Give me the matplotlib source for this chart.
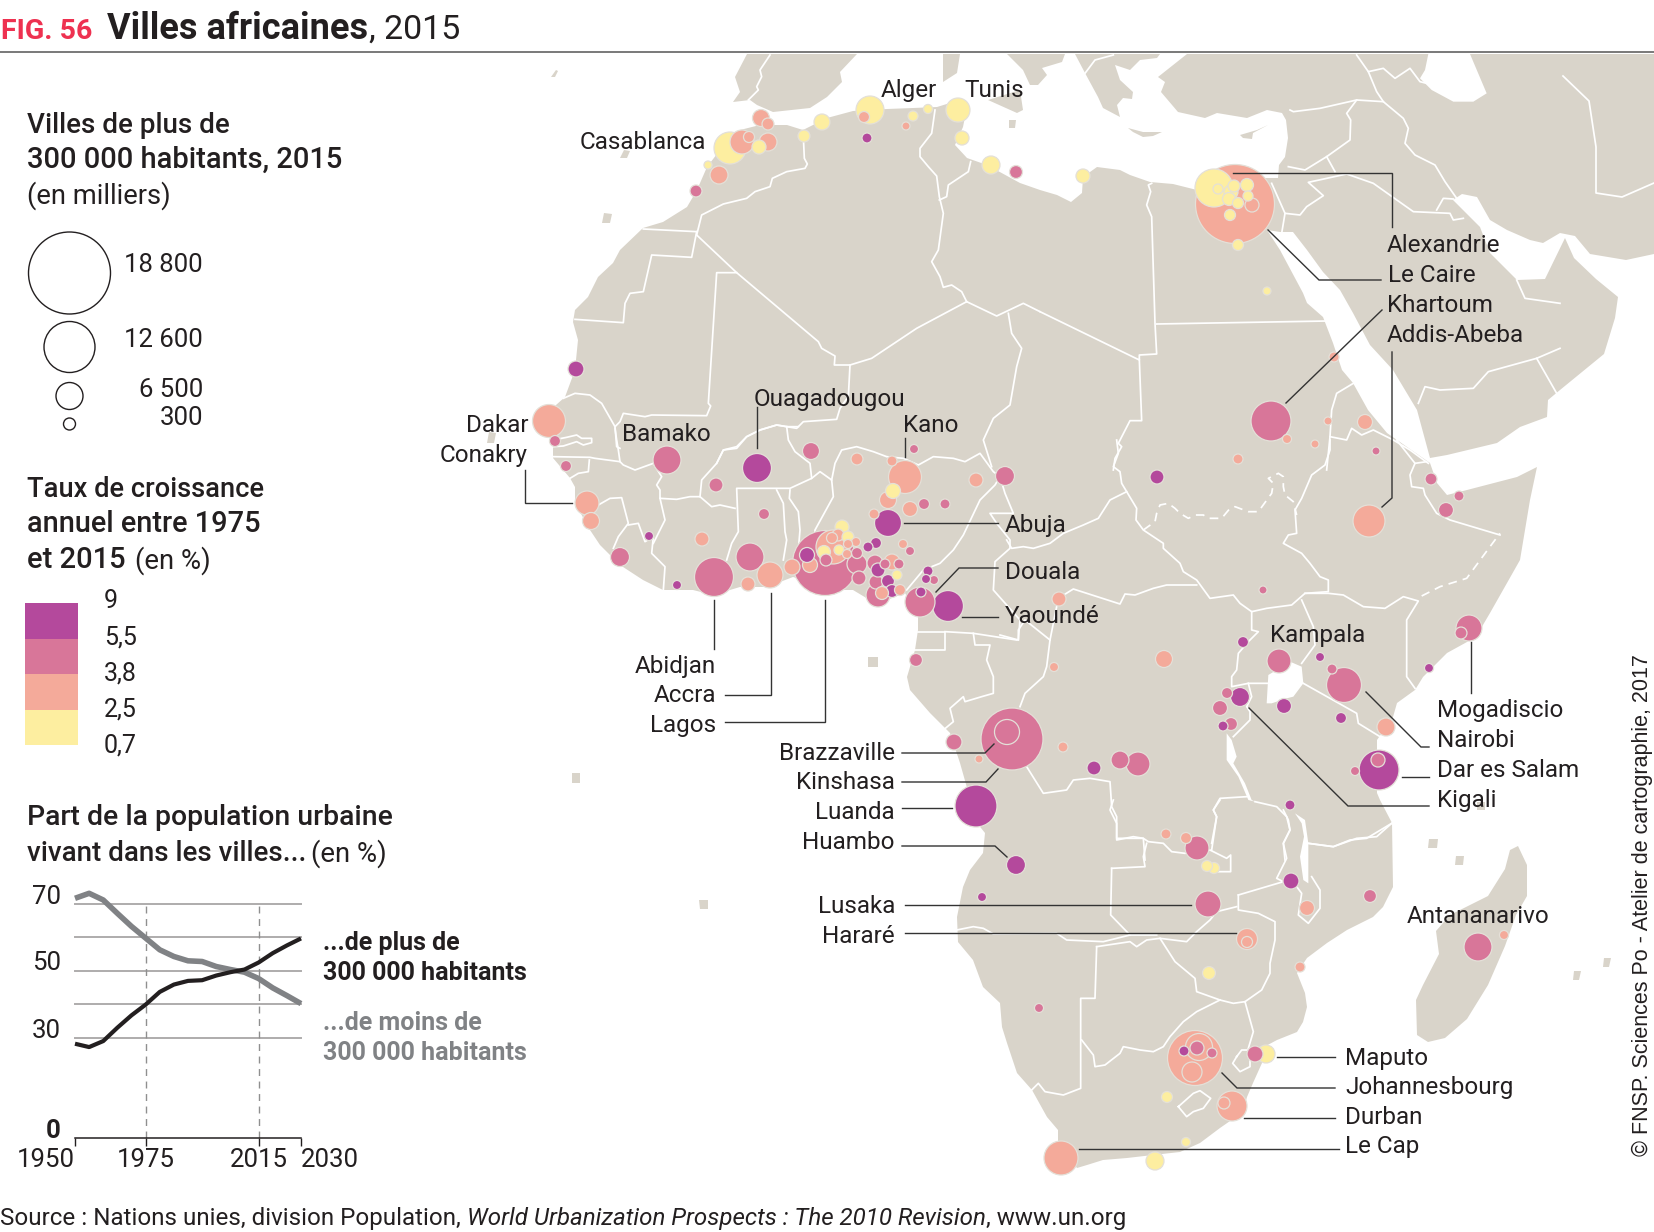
import matplotlib
matplotlib.use('Agg')
import matplotlib.pyplot as plt
from matplotlib import font_manager
from matplotlib.colors import ListedColormap, BoundaryNorm
from matplotlib.patches import Circle, Polygon, Rectangle
import numpy as np

installed = {f.name for f in font_manager.fontManager.ttflist}
BODY = 'Roboto'
NARROW = 'Liberation Sans Narrow' if 'Liberation Sans Narrow' in installed else 'Roboto'

LAND = '#d9d4ca'
INK = '#231f20'
LEADER = '#333333'


def crop(x0, y0, pts):
    return [(x0 + x / 3, y0 + y / 3) for x, y in pts]


# ---- map outlines ----
main_coast = [(1158,77),(1165,82),(1161,92),(1178,112),(1205,118),(1217,113),(1247,118),(1267,110),(1282,113),(1286,120),
    (1288,138),(1285,157),(1279,165),(1278,178),(1240,178),(1213,173),(1197,190),(1173,184),(1150,182),(1130,175),(1120,170),
    (1097,167),(1083,177),(1082,193),(1071,202),(1057,195),(1040,190),(1020,183),(987,165),(967,158),(955,145),(963,127),
    (967,107),(950,103),(937,107),(913,108),(887,109),(853,111),(827,118),(813,125),(803,130),(787,125),(768,125),(760,125),
    (740,130),(720,150),(707,167),(697,190),(687,207),(663,222),(643,228),(620,250),(613,263),(598,277),(588,297),(575,310),
    (573,322),(578,340),(575,370),(565,397),(556,405),(549,425),(553,440),(553,458),(570,478),(575,487),(575,503),(590,530),
    (600,545),(620,565),(643,580),(663,590),(693,590),(713,595),(740,587),(767,587),(793,577),(837,590),(853,590),(873,602),
    (887,600),(905,593),(918,617),(918,630),(915,650),(907,677),(910,690),(930,713),(950,733),(960,763),(977,823),(985,833),
    (983,853),(970,870),(963,887),(957,917),(958,942),(973,960),(983,987),(1000,1003),(1002,1027),(1007,1043),(1017,1073),
    (1032,1090),(1047,1117),(1058,1130),(1058,1145),(1077,1168),(1087,1165),(1103,1160),(1127,1158),(1153,1155),(1180,1152),
    (1200,1143),(1220,1128),(1243,1112),(1247,1097),(1253,1083),(1262,1063),(1262,1048),(1277,1040),(1297,1032),(1303,1022),
    (1307,1007),(1305,993),(1297,973),(1307,958),(1327,943),(1347,930),(1373,917),(1383,907),(1393,887),(1392,823),(1380,800),
    (1377,793),(1377,740),(1393,717),(1397,703),(1415,690),(1423,677),(1447,653),(1467,642),(1480,630),(1490,613),(1507,583),
    (1520,560),(1530,500),(1537,467),(1517,477),(1467,490),(1447,495),(1437,483),(1430,463),(1397,440),(1387,433),(1368,410),
    (1353,383),(1342,370),(1333,343),(1323,317),(1307,303),(1303,293),(1280,250),(1267,230),(1280,232),(1293,232),(1307,250),
    (1323,272),(1340,290),(1353,313),(1370,345),(1393,370),(1417,410),(1430,458),(1447,455),(1497,443),(1520,427),(1547,417),
    (1548,400),(1560,390),(1604,354),(1615,318),(1618,297),(1596,279),(1574,258),(1565,238),(1545,279),(1517,280),(1490,253),
    (1480,227),(1463,210),(1453,200),(1462,194),(1477,197),(1490,220),(1507,230),(1530,240),(1543,243),(1560,233),(1575,236),
    (1590,254),(1626,260),(1654,254),(1654,54),(1187,54)]
iberia = [(747,54),(735,77),(740,92),(733,102),(750,100),(757,105),(773,112),(810,108),(827,97),(842,82),(840,72),(857,54)]
sardinia = [(943,54),(960,54),(957,73),(943,82)]
sicily = [(988,100),(1020,90),(1023,110),(1017,113)]
italy = [(1007,54),(1023,70),(1030,85),(1038,85),(1047,75),(1042,68),(1062,62),(1065,54)]
balkans = [(1075,54),(1085,73),(1098,97),(1103,108),(1120,117),(1117,105),(1123,98),(1132,99),(1133,92),(1120,80),(1115,65),
    (1130,70),(1140,60),(1157,58),(1160,54)]
cyprus = [(1240,135),(1257,130),(1268,125),(1253,133),(1252,139),(1243,138)]
crete = [(1128,128),(1143,132),(1162,132),(1153,136),(1143,137),(1133,132)]
madagascar = [(1518,846),(1527,865),(1527,896),(1516,915),(1505,946),(1488,985),(1467,1019),(1445,1038),(1428,1042),(1417,1035),
    (1416,1000),(1423,985),(1439,954),(1436,931),(1450,915),(1488,896),(1505,869),(1510,850)]
islands = [[(551,77),(556,70),(558,71),(555,77)], [(620,158),(624,150),(630,151),(627,158)], [(602,223),(604,213),(612,214),(610,223)],
    [(487,443),(489,432),(496,433),(494,443)], [(868,657),(878,657),(878,667),(868,667)], [(572,773),(580,773),(580,783),(572,783)],
    [(699,900),(708,900),(708,909),(700,909)], [(1009,120),(1016,120),(1015,128),(1009,128)], [(1429,839),(1438,839),(1437,848),(1428,848)],
    [(1456,856),(1464,856),(1463,865),(1455,865)], [(1604,958),(1611,958),(1609,967),(1603,967)], [(1574,971),(1581,971),(1579,980),(1573,980)],
    [(1477,802),(1485,802),(1485,810),(1477,810)]]
caspian = crop(1040, 50, [(1165,12),(1290,12),(1340,130),(1300,155),(1240,155),(1175,120),(1140,85),(1155,60)])
lake_victoria = crop(1000, 440, [(805,705),(870,665),(905,680),(910,730),(880,770),(860,775),(815,790),(800,790)])
lake_tanganyika = crop(1000, 440, [(680,880),(695,900),(710,950),(700,970),(735,1030),(755,1080),(765,1085),(745,1080),(715,1010),(680,960)])
lake_malawi = crop(900, 800, [(1185,40),(1215,60),(1225,130),(1225,250),(1210,240),(1200,170),(1212,110),(1205,70)])

iran_east = [(1563,76),(1589,101),(1596,147),(1596,193),(1622,197),(1654,183)]

z7_borders = [
    [(370,537),(530,545)],
    [(530,555),(545,495),(610,462),(680,445),(705,425),(750,410),(757,385),(800,365),(855,355),(862,342),(853,325),(850,260)],
    [(530,545),(515,622),(395,615),(370,725),(330,730),(315,760),(310,818),(165,808)],
    [(530,555),(650,668),(895,875),(905,895),(945,918),(943,945),(990,945),(1055,925),(1190,835),(1340,755)],
    [(650,668),(590,668),(565,1060),(572,1068),(560,1097),(395,1095),(375,1100),(310,1090),(300,1115),(285,1130)],
    [(130,1045),(165,1030),(210,1035),(245,1060),(285,1130),(290,1190),(300,1195)],
    [(990,945),(985,1040),(960,1075),(950,1108),(850,1115),(830,1135),(770,1125),(720,1140),(680,1160),(650,1195),(610,1200),(590,1240)],
    [(1245,180),(1235,250),(1200,295),(1200,320),(1225,350),(1250,378),(1258,440),(1270,490),(1255,600),(1235,635),(1260,680),(1270,712),(1295,705),(1325,725),(1340,755)],
    [(1352,335),(1345,365),(1285,405),(1280,440),(1258,450)],
    [(1340,755),(1430,798),(1510,760),(1560,785)],
    [(1465,790),(1475,850),(1505,895),(1490,950),(1470,1065),(1420,1105),(1390,1170),(1415,1250)],
    [(750,15),(720,60),(725,80),(710,110),(715,120),(685,150)],
]
z8_borders = [
    [(0,785),(298,930),(298,915),(350,912),(345,820),(335,500),(320,465),(332,425),(325,405),(335,400)],
    [(350,822),(860,813)],
    [(298,930),(305,1112),(270,1112),(235,1180),(245,1190),(225,1225),(220,1260)],
    [(940,1000),(890,1030),(875,1080),(870,1160),(920,1170),(935,1135),(965,1155),(1000,1140),(1060,1170),(1110,1200),(1165,1240)],
    [(870,1160),(860,1260)],
    [(695,400),(735,490),(725,550)],
    [(735,490),(780,495),(800,470),(850,437),(805,397),(920,372),(1000,400),(1120,485),(1230,490),(1240,510),(1270,505)],
    [(745,350),(795,360),(860,320),(930,270),(932,210),(920,190),(950,150),(1030,155)],
    [(750,180),(760,185),(840,175),(950,150)],
    [(860,320),(885,365)],
    [(985,65),(1010,125),(1030,155),(1090,205),(1105,235),(1095,280),(1125,315),(1185,345),(1215,395),(1250,445)],
    [(1190,480),(1210,445),(1240,447)],
    [(950,15),(985,65),(1030,55),(1065,85),(1110,55),(1140,95),(1160,100)],
    [(1135,1060),(1155,1010),(1200,1020),(1300,1015),(1345,965),(1490,925),(1560,895)],
    [(1490,925),(1550,1030)],
    [(1430,690),(1455,745),(1560,760)],
    [(135,70),(165,30),(220,15)],
]
z10_borders = [
    [(100,120),(140,112),(170,105),(185,115),(215,115),(215,128),(190,135),(170,125),(130,138),(100,140)],
    [(100,170),(210,172),(225,175),(300,185),(295,150),(290,120),(285,85)],
    [(150,235),(175,220),(205,215),(208,180)],
    [(300,185),(310,195),(345,210),(400,190),(425,230),(410,255),(420,270),(420,295),(470,298),(510,290),(540,290),(575,320),(600,315),(645,325)],
    [(540,290),(545,240),(590,190),(610,150),(650,140),(680,110),(720,90),(770,75),(800,80),(835,80)],
    [(800,80),(805,120),(825,155),(870,190),(875,235),(810,265),(770,265),(650,265),(655,395),(635,430),(620,480)],
    [(770,270),(790,310),(795,395),(800,420),(790,480)],
    [(810,270),(808,295),(835,335),(840,390),(835,450)],
    [(875,235),(900,215),(935,240),(940,290),(885,390),(880,450)],
    [(935,240),(945,190),(965,150),(1010,140),(1060,155),(1100,170),(1150,175),(1195,195),(1240,170),(1300,175),(1335,185),(1380,160),(1420,215),(1440,230)],
    [(1440,230),(1425,255),(1380,300),(1330,405),(1300,450),(1260,490),(1210,510),(1160,570)],
    [(1440,230),(1455,280),(1480,340),(1410,340),(1430,370),(1470,420),(1470,445),(1425,485),(1420,570),(1500,660),(1495,720)],
    [(1195,695),(1275,695),(1275,750),(1185,750)],
    [(1275,695),(1360,700),(1490,720)],
    [(1360,700),(1365,735),(1410,735),(1400,780),(1420,830),(1420,880),(1385,890),(1335,905),(1330,890),(1290,925),(1300,965),(1270,990)],
    [(235,315),(270,295),(305,293),(325,370),(295,410),(280,445)],
    [(325,375),(355,370),(375,425),(400,410),(395,460),(435,500),(430,570)],
    [(420,295),(435,360),(400,430)],
]
z11_borders = [
    [(0,585),(55,600),(55,570),(75,540),(150,600)],
    [(20,300),(35,325),(70,320),(100,325),(150,310),(190,280),(250,255),(295,235),(330,180),(380,155)],
    [(350,0),(355,40),(340,80),(360,95),(365,130),(380,155),(410,205),(408,240),(430,270),(490,310),(490,325),(540,370),(550,395),(590,420),(630,475),(700,465),(720,490),(755,515),(800,505),(875,495),(915,460),(985,455),(985,420),(960,410),(930,370),(905,340),(850,310),(865,285),(890,280),(885,210),(905,175),(935,105),(975,75),(990,30),(990,0)],
    [(590,435),(500,435),(460,445),(405,465),(375,462),(360,492),(220,447),(175,475),(150,600),(140,680),(130,710),(75,760),(60,800)],
    [(80,980),(130,1060),(200,1050),(220,1020),(270,1015),(330,1025),(335,1100),(350,1130),(350,1195),(430,1195),(435,1260)],
    [(755,515),(755,570),(775,575),(745,605),(715,640),(710,690),(695,710),(695,740),(745,730),(810,730)],
    [(905,480),(940,560),(945,615),(905,670)],
    [(910,730),(1070,820),(1075,850),(1140,890)],
    [(915,460),(985,460),(1030,465),(1090,500),(1155,505),(1210,470),(1255,483),(1220,540),(1220,710),(1245,745)],
    [(1190,0),(1245,70),(1230,105),(1235,140),(1270,145),(1275,165),(1310,220),(1350,240),(1500,285)],
    [(1245,70),(1280,65)],
    [(745,730),(755,770),(740,800),(750,815),(750,840),(700,890)],
    [(740,1070),(660,1075),(640,1110),(650,1130),(635,1210)],
    [(765,1085),(830,1100),(860,1130),(870,1170),(850,1210),(855,1260)],
    [(925,1210),(1000,1220),(1070,1195),(1130,1190),(1175,1150)],
]
z11_dashed = [
    [(430,270),(465,245),(470,220),(480,195),(505,190),(525,205),(540,220),(565,235),(585,225),(610,225),(625,235),(665,235),(690,205),(705,200),(745,215),(775,215),(815,160),(820,130),(805,115),(835,100),(850,110),(850,140),(855,165),(880,185),(890,225)],
    [(1265,468),(1320,440),(1400,415),(1470,320),(1500,280)],
]
z12_borders = [
    [(640,0),(630,30),(650,70),(650,120),(700,110),(730,115),(745,125),(790,130),(815,155),(855,160),(930,150),(980,175),(992,165),(992,215),(935,215)],
    [(935,150),(950,50),(940,30),(960,0)],
    [(635,205),(735,200),(730,170),(740,130)],
    [(635,205),(632,345),(690,405)],
    [(170,390),(220,380),(250,385),(280,402),(470,400),(500,420),(610,425),(690,405),(770,405)],
    [(590,440),(690,425),(710,440),(740,420),(780,415),(820,420),(860,425),(890,395),(930,360),(950,335),(1010,320)],
    [(780,415),(825,485),(885,535),(890,575),(960,600)],
    [(1015,285),(1015,330),(1075,340),(1125,365),(1125,420),(1110,490),(1110,520),(1085,570),(1035,605)],
    [(960,600),(1000,610),(1035,605),(1060,695),(1045,745)],
    [(590,440),(585,595),(542,595),(542,865),(490,885),(435,875),(415,850),(395,870)],
    [(545,720),(580,765),(585,800),(615,795),(660,760),(670,740),(720,750),(760,755),(790,740),(810,710),(850,665),(890,635),(960,600)],
    [(835,920),(880,880),(900,872),(932,895),(910,925),(880,935),(860,950),(835,920)],
    [(1010,770),(1025,750),(1050,750),(1050,800),(1020,815),(998,790),(1010,770)],
    [(1150,30),(1165,60),(1170,90),(1150,130),(1160,175),(1130,235),(1150,245),(1015,285)],
    [(1190,260),(1205,280),(1195,345),(1225,370),(1260,325),(1260,270),(1235,230)],
    [(1225,130),(1300,140),(1350,120),(1400,115),(1475,70)],
]

# ---- cities: map position, population (thousands), annual growth (%) ----
city_x = [730,742,749,768,759,761,768,708,719,696,804,822,870,864,867,913,928,906,958,962,991,1016,1083,
    1235,1214,1218,1234,1247,1231,1229,1238,1248,1252,1230,1238,1267,1334,1271,1287,1328,1365,1315,1376,1238,
    1157,1369,1431,1459,1446,1469,1461,1429,1344,1332,1320,1279,1284,1341,1386,1379,1378,1355,1240,1227,1220,1231,1223,
    1243,1263,1164,1054,1059,1063,1094,1120,1138,1012,1007,954,979,976,916,1016,982,1208,1197,1186,1166,1207,1214,
    1290,1291,1307,1370,1300,1247,1247,1209,1039,1195,1199,1197,1184,1212,1192,1255,1266,1232,1224,1167,1186,1155,1061,1478,1504,
    549,555,566,576,667,757,811,716,587,591,620,649,677,702,764,714,750,748,770,792,825,
    807,810,833,842,848,838,832,824,839,848,856,847,826,857,868,876,857,859,875,878,892,885,899,876,888,897,878,882,892,900,
    903,910,920,921,948,928,926,934,888,874,910,888,905,893,892,914,857,924,945,976,1005]
city_y = [148,142,137,142,147,118,124,165,175,191,136,122,110,117,138,116,109,126,110,138,165,172,176,
    204,188,189,186,185,192,199,203,196,205,215,245,291,357,421,439,421,422,444,451,459,
    477,521,479,496,510,628,633,668,685,669,657,661,706,718,727,770,760,771,697,693,708,724,726,
    642,590,659,667,599,747,768,760,764,739,732,742,759,806,660,865,897,904,848,838,834,866,868,
    805,881,908,896,967,939,942,973,1008,1058,1047,1048,1051,1053,1072,1054,1054,1106,1103,1097,1142,1161,1158,947,935,
    421,441,466,369,460,468,451,485,503,521,557,536,585,539,514,577,557,584,575,567,563,
    555,565,547,527,537,535,538,552,550,544,542,554,560,553,547,543,564,578,563,570,562,564,564,582,581,575,595,593,591,590,
    544,551,602,592,606,571,579,580,523,514,509,500,477,491,461,449,459,504,504,480,476]
city_pop = [2860,1610,340,905,550,810,400,180,905,400,400,715,2190,340,280,280,230,180,1610,550,905,470,550,
    17450,4040,280,400,470,550,470,340,280,550,340,340,180,280,4470,230,180,630,180,180,280,
    550,2860,400,280,630,1890,400,230,3420,280,230,1610,630,340,905,4470,550,230,1010,340,630,470,280,
    340,180,810,230,550,280,550,905,1610,10740,1750,715,180,4930,470,1010,230,1890,1610,340,280,340,340,
    280,715,630,470,280,1230,340,470,230,8450,2040,550,280,280,1120,715,905,2520,400,340,230,905,3230,2190,230,
    3040,340,340,715,2190,2350,810,550,1610,810,1010,230,230,550,340,4250,2190,550,1890,715,11810,
    630,630,3230,550,400,400,340,470,280,230,230,230,400,340,280,340,1120,550,715,550,715,280,280,550,470,280,1610,470,470,340,
    230,230,2520,280,2680,280,230,230,2040,280,630,810,3040,630,280,230,400,340,280,550,1010]
city_rate = [2,3,3,3,2,3,3,2,3,4.5,2,2,2,3,7,2,2,3,2,2,2,4.5,2,
    3,2,2,2,2,2,2,2,2,3,2,2,2,3,4.5,3,3,3,3,4.5,3,
    7,3,4.5,4.5,4.5,4.5,4.5,7,4.5,4.5,7,4.5,7,7,3,7,4.5,4.5,7,4.5,4.5,4.5,7,
    7,4.5,3,3,3,3,7,4.5,4.5,4.5,4.5,4.5,3,7,4.5,7,7,4.5,4.5,3,3,2,2,
    7,7,3,4.5,3,3,3,2,4.5,3,3,4.5,7,4.5,3,4.5,2,3,3,2,2,2,3,4.5,3,
    3,4.5,4.5,7,4.5,7,4.5,4.5,3,3,4.5,7,7,3,4.5,4.5,4.5,3,3,3,4.5,
    7,3,3,2,2,3,3,2,2,3,3,3,4.5,4.5,7,7,4.5,4.5,4.5,7,3,4.5,4.5,4.5,7,2,4.5,3,7,3,
    3,4.5,4.5,7,7,7,7,4.5,7,3,3,3,3,2,3,4.5,3,4.5,4.5,3,4.5]

rate_bins = [0.7, 2.5, 3.8, 5.5, 9]
rate_colors = ['#fdeea0', '#f4aa9a', '#d87699', '#b4499c']
rate_labels = ['0,7', '2,5', '3,8', '5,5', '9']

legend_sizes = ['18 800', '12 600', '6 500', '300']
legend_radius = [41, 25.5, 13.5, 6]
legend_center_y = [273, 347, 396, 424]
legend_label_y = [263, 338, 388, 416]

# ---- urban share, every 5 years ----
years = [1950,1955,1960,1965,1970,1975,1980,1985,1990,1995,2000,2005,2010,2015,2020,2025,2030]
share_small = [71.7,73.2,71.2,67.2,63.3,59.8,56.3,54.3,53,52.8,51.3,50.4,49.6,47.7,44.9,42.6,40.2]
share_large = [28.2,27.2,29,33,36.7,39.9,43.7,45.9,47,47.2,48.6,49.6,50.4,52.5,55.3,57.6,59.7]

# ---- callouts ----
labels_left = [('Alger',881,88),('Tunis',964,88),('Ouagadougou',754,397),('Kano',903,423),('Bamako',622,432),
    ('Alexandrie',1387,243),('Le Caire',1388,273),('Khartoum',1387,303),('Addis-Abeba',1387,333),
    ('Abuja',1005,523),('Douala',1005,570),('Yaoundé',1005,614),('Kampala',1270,633),
    ('Mogadiscio',1437,708),('Nairobi',1437,738),('Dar es Salam',1437,768),('Kigali',1437,798),
    ('Antananarivo',1407,914),('Maputo',1345,1056),('Johannesbourg',1345,1085),('Durban',1345,1115),('Le Cap',1345,1144)]
labels_right = [('Casablanca',706,140),('Dakar',528,423),('Conakry',528,453),('Abidjan',716,664),('Accra',716,693),('Lagos',716,723),
    ('Brazzaville',895,751),('Kinshasa',895,780),('Luanda',895,810),('Huambo',895,840),('Lusaka',895,904),('Hararé',895,934)]
leaders = [
    [(1233,173),(1392,173),(1392,227)], [(1268,230),(1319,280),(1381,280)], [(1286,403),(1382,310)],
    [(1392,352),(1392,498),(1382,507)], [(904,523),(998,523)], [(936,592),(959,568),(998,568)], [(962,617),(998,617)],
    [(525,470),(525,503),(572,503)], [(714,600),(714,649)], [(771,593),(771,695),(725,695)], [(825,600),(825,722),(725,722)],
    [(902,753),(985,753),(994,744)], [(902,782),(986,782),(998,769)], [(902,808),(952,808)], [(902,846),(995,846),(1007,857)],
    [(905,905),(1191,905)], [(905,933),(1236,933)], [(1471,642),(1471,693)], [(1366,692),(1421,747),(1429,747)],
    [(1402,777),(1429,777)], [(1249,708),(1348,806),(1429,806)], [(1277,1057),(1335,1057)], [(1222,1073),(1237,1088),(1335,1088)],
    [(1244,1118),(1335,1118)], [(1079,1149),(1339,1149)], [(757,407),(757,448)], [(905,438),(905,457)],
]

fig = plt.figure(figsize=(16.54, 12.32), dpi=100, facecolor='white')
ax = fig.add_axes([0, 0, 1, 1])
ax.set_xlim(0, 1654)
ax.set_ylim(1232, 0)
ax.axis('off')


def txt(x, y, s, size=17.5, ha='left', color=INK, weight='normal', family=BODY, **kw):
    # y is the visual centre of the line, va='center' sits about 2px high
    return ax.text(x, y + 2.2, s, fontsize=size, ha=ha, va='center', color=color, fontweight=weight, family=family, **kw)


# land
for shape in [main_coast, iberia, sardinia, sicily, italy, balkans, cyprus, crete, madagascar] + islands:
    ax.add_patch(Polygon(shape, closed=True, fc=LAND, ec='none', zorder=1))
for shape in [caspian, lake_victoria, lake_tanganyika, lake_malawi]:
    ax.add_patch(Polygon(shape, closed=True, fc='white', ec='none', zorder=2))

border_sets = [(520, 50, z7_borders), (1040, 50, z8_borders), (520, 400, z10_borders), (1000, 440, z11_borders), (900, 800, z12_borders)]
for x0, y0, group in border_sets:
    for line in group:
        pts = np.array(crop(x0, y0, line))
        ax.plot(pts[:, 0], pts[:, 1], color='white', lw=1.25, zorder=3, solid_joinstyle='round')
for line in z11_dashed:
    pts = np.array(crop(1000, 440, line))
    ax.plot(pts[:, 0], pts[:, 1], color='white', lw=1.25, ls=(0, (5, 3.5)), zorder=3)
pts = np.array(iran_east)
ax.plot(pts[:, 0], pts[:, 1], color='white', lw=1.25, zorder=3)

# cities, biggest first so the small ones stay visible
cmap = ListedColormap(rate_colors)
norm = BoundaryNorm(rate_bins, cmap.N)
for i in np.argsort(city_pop)[::-1]:
    r = 0.299 * np.sqrt(city_pop[i])
    ax.add_patch(Circle((city_x[i], city_y[i]), r, fc=cmap(norm(city_rate[i])), ec='#e4e0d8', lw=0.9, zorder=4))

for line in leaders:
    pts = np.array(line)
    ax.plot(pts[:, 0], pts[:, 1], color=LEADER, lw=1.0, zorder=5, solid_joinstyle='miter')
for name, x, y in labels_left:
    txt(x, y, name, zorder=6)
for name, x, y in labels_right:
    txt(x, y, name, ha='right', zorder=6)

# title
txt(1, 29, 'FIG. 56', size=20.5, color='#ee3150', weight='bold', family=NARROW)
txt(107, 27, 'Villes africaines', size=26, weight='bold', family=NARROW)
txt(369, 27, ', 2015', size=24.5, family=NARROW)
ax.plot([0, 1654], [52, 52], color='#555555', lw=1.1, zorder=7)

# size legend
txt(27, 123, 'Villes de plus de', size=20, weight='medium')
txt(27, 158, '300 000 habitants, 2015', size=21, weight='medium')
txt(27, 193, '(en milliers)', size=19.7)
for size_label, radius, cy, ly in zip(legend_sizes, legend_radius, legend_center_y, legend_label_y):
    ax.add_patch(Circle((69.5, cy), radius, fc='white', ec=INK, lw=1.0))
    txt(203, ly, size_label, size=18.5, ha='right')

# colour legend
txt(27, 487, 'Taux de croissance', size=19.6, weight='medium')
txt(27, 522, 'annuel entre 1975', size=20.8, weight='medium')
txt(27, 558, 'et 2015', size=21, weight='medium')
txt(135, 558, '(en %)', size=19.8)
band_h = 35.5
for k, col in enumerate(rate_colors):
    ax.add_patch(Rectangle((25, 745 - (k + 1) * band_h), 53, band_h, fc=col, ec='none'))
for k, lab in enumerate(rate_labels):
    txt(104, 743 - k * 36, lab, size=18)

# line chart legend
txt(27, 815, 'Part de la population urbaine', size=20.4, weight='medium')
txt(27, 851, 'vivant dans les villes...', size=20, weight='medium')
txt(311, 851, '(en %)', size=19.8)
txt(323, 941, '...de plus de', size=18, weight='bold')
txt(323, 971, '300 000 habitants', size=18, weight='bold')
txt(323, 1021, '...de moins de', size=18, weight='bold', color='#808285')
txt(323, 1051, '300 000 habitants', size=18, weight='bold', color='#808285')

inset = fig.add_axes([75 / 1654, 1 - 1138 / 1232, (301 - 75) / 1654, (1138 - 904) / 1232])
inset.set_xlim(1950, 2030)
inset.set_ylim(0, 70)
inset.patch.set_alpha(0)
for side in ['top', 'left', 'right']:
    inset.spines[side].set_visible(False)
inset.spines['bottom'].set_color(INK)
inset.spines['bottom'].set_linewidth(1.1)
for v in [30, 40, 50, 60, 70]:
    inset.axhline(v, color='#aeacac', lw=1.4, zorder=1, clip_on=False)
for yr in [1975, 2015]:
    inset.plot([yr, yr], [0, 70], color='#8f8f8f', lw=1.0, ls=(0, (5, 4)), zorder=1)
inset.plot(years, share_small, color='#808285', lw=4.0, zorder=2, clip_on=False, solid_capstyle='butt')
inset.plot(years, share_large, color=INK, lw=3.0, zorder=3, clip_on=False, solid_capstyle='butt')
inset.set_yticks([])
inset.set_xticks([1950, 1975, 2015, 2030])
inset.set_xticklabels(['1950', '1975', '2015', '2030'], fontsize=18.5, family=BODY, color=INK)
inset.tick_params(axis='x', length=5.5, width=1.0, color=INK, pad=1.5)
tl = inset.get_xticklabels()
tl[0].set_ha('right')
tl[3].set_ha('left')
txt(61, 895, '70', size=18.5, ha='right')
txt(61, 961, '50', size=18.5, ha='right')
txt(61, 1029, '30', size=18.5, ha='right')
txt(61, 1129, '0', size=18.5, ha='right', weight='bold')

# source + credit
src = ax.text(0, 1219, 'Source : Nations unies, division Population, ', fontsize=17.4, va='center', color=INK, family=BODY)
fig.canvas.draw()
x_end = src.get_window_extent().x1
it = ax.text(x_end, 1219, 'World Urbanization Prospects : The 2010 Revision', fontsize=17.4, va='center', color=INK, family=BODY, style='italic')
x_end = it.get_window_extent().x1
ax.text(x_end, 1219, ', www.un.org', fontsize=17.4, va='center', color=INK, family=BODY)
ax.text(1642, 905, '© FNSP. Sciences Po - Atelier de cartographie, 2017', fontsize=15.5, rotation=90, va='center', ha='center',
        color=INK, family='Liberation Sans')

fig.savefig('out.png', dpi=100)
